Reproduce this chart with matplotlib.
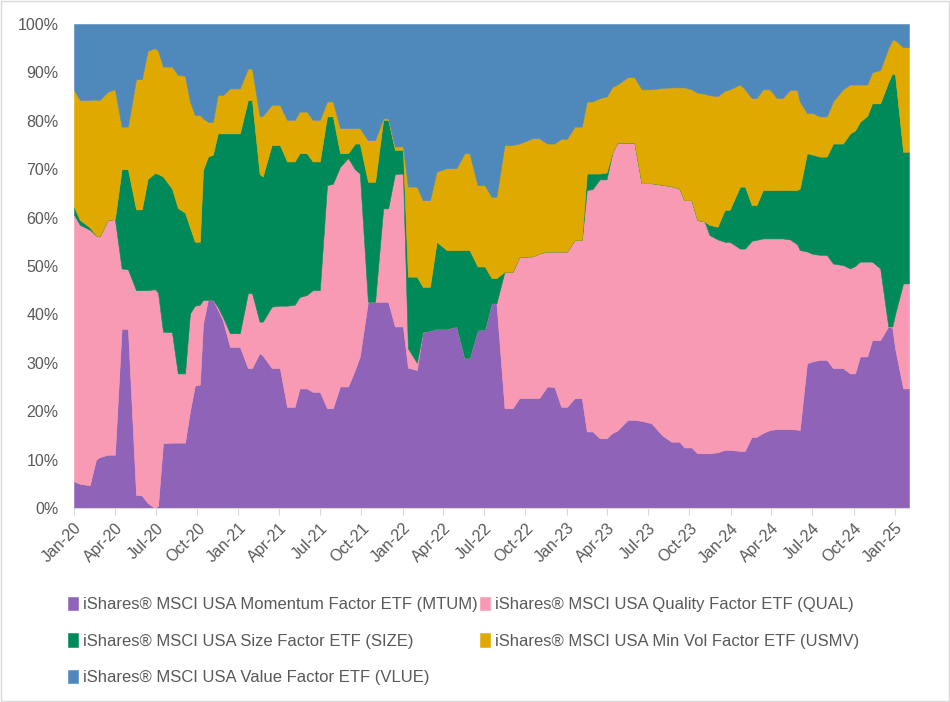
import numpy as np
import pandas as pd
import matplotlib
matplotlib.use("Agg")
import matplotlib.pyplot as plt
import matplotlib.dates as mdates
from matplotlib.patches import Rectangle
from matplotlib.ticker import PercentFormatter

plt.rcParams['font.family'] = ['Liberation Sans', 'DejaVu Sans']

dates = [
    "2020-01-01", "2020-01-14", "2020-02-05", "2020-02-19", "2020-02-27", "2020-03-16",
    "2020-04-01", "2020-04-16", "2020-04-30", "2020-05-18", "2020-05-31", "2020-06-13",
    "2020-06-29", "2020-07-06", "2020-07-17", "2020-08-06", "2020-08-19", "2020-09-04",
    "2020-09-15", "2020-09-26", "2020-10-07", "2020-10-14", "2020-10-25", "2020-11-05",
    "2020-11-16", "2020-11-27", "2020-12-13", "2021-01-04", "2021-01-22", "2021-01-31",
    "2021-02-17", "2021-02-24", "2021-03-16", "2021-04-03", "2021-04-19", "2021-05-06",
    "2021-05-17", "2021-06-02", "2021-06-15", "2021-07-01", "2021-07-17", "2021-07-30",
    "2021-08-15", "2021-09-02", "2021-09-17", "2021-09-28", "2021-10-16", "2021-11-01",
    "2021-11-19", "2021-11-30", "2021-12-15", "2022-01-02", "2022-01-13", "2022-02-02",
    "2022-02-15", "2022-03-03", "2022-03-18", "2022-04-09", "2022-05-01", "2022-05-19",
    "2022-05-30", "2022-06-17", "2022-07-03", "2022-07-18", "2022-07-29", "2022-08-16",
    "2022-09-03", "2022-09-18", "2022-10-17", "2022-11-01", "2022-11-19", "2022-12-05",
    "2022-12-20", "2023-01-02", "2023-01-19", "2023-02-04", "2023-02-15", "2023-02-28",
    "2023-03-16", "2023-03-31", "2023-04-13", "2023-04-24", "2023-05-17", "2023-06-01",
    "2023-06-17", "2023-07-09", "2023-08-02", "2023-08-22", "2023-09-09", "2023-09-20",
    "2023-10-06", "2023-10-19", "2023-11-04", "2023-11-15", "2023-12-03", "2023-12-19",
    "2023-12-30", "2024-01-22", "2024-02-02", "2024-02-17", "2024-02-28", "2024-03-13",
    "2024-03-28", "2024-04-13", "2024-04-26", "2024-05-12", "2024-05-28", "2024-06-03",
    "2024-06-19", "2024-07-02", "2024-07-18", "2024-08-02", "2024-08-16", "2024-09-07",
    "2024-09-23", "2024-10-04", "2024-10-15", "2024-10-31", "2024-11-11", "2024-11-29",
    "2024-12-17", "2024-12-26", "2025-01-01", "2025-01-19", "2025-02-01",
]

# weights in % (each row of the five lists sums to 100)
mtum = [
    5.5, 5.0, 4.7, 10.0, 10.5, 11.0, 11.0, 37.0, 37.0, 2.7, 2.6, 1.0,
    0.0, 0.5, 13.4, 13.5, 13.5, 13.5, 20.0, 25.3, 25.5, 38.0, 43.0, 43.0,
    41.0, 38.8, 33.3, 33.3, 28.9, 28.9, 32.0, 31.5, 28.9, 28.9, 20.9, 20.9,
    24.7, 24.7, 24.0, 24.0, 20.6, 20.6, 25.1, 25.1, 28.5, 31.3, 42.6, 42.6,
    42.6, 42.6, 37.5, 37.5, 29.0, 28.5, 36.4, 36.6, 37.0, 37.0, 37.5, 31.0,
    31.0, 36.8, 36.8, 42.3, 42.3, 20.6, 20.6, 22.7, 22.7, 22.7, 25.1, 25.0,
    20.9, 20.9, 22.7, 22.7, 15.8, 15.8, 14.4, 14.4, 15.5, 16.0, 18.2, 18.2,
    18.0, 17.5, 15.0, 13.7, 13.7, 12.5, 12.5, 11.3, 11.3, 11.3, 11.5, 12.0,
    12.0, 11.8, 11.8, 14.7, 14.7, 15.5, 16.1, 16.3, 16.3, 16.3, 16.2, 16.1,
    29.9, 30.3, 30.6, 30.6, 28.9, 28.9, 27.8, 27.8, 31.3, 31.3, 34.7, 34.7,
    37.5, 37.2, 33.0, 24.7, 24.7,
]
qual = [
    55.1, 53.5, 52.8, 46.3, 45.6, 48.5, 48.7, 12.5, 12.3, 42.3, 42.4, 44.0,
    45.2, 44.0, 23.0, 22.8, 14.3, 14.3, 20.2, 16.5, 16.5, 5.0, 0.0, 0.0,
    0.5, 0.7, 2.8, 2.8, 15.5, 15.5, 6.5, 7.0, 12.7, 12.9, 20.9, 21.1,
    18.9, 19.3, 21.0, 21.0, 46.1, 46.4, 45.4, 47.2, 41.5, 37.8, 0.0, 0.0,
    19.3, 19.3, 31.5, 31.6, 4.0, 1.5, 0.0, 0.0, 0.0, 0.0, 0.0, 0.0,
    0.0, 0.0, 0.0, 0.0, 0.0, 28.2, 28.2, 29.2, 29.3, 29.9, 27.9, 28.0,
    32.1, 32.1, 32.7, 32.7, 49.9, 50.1, 53.5, 53.5, 58.0, 59.5, 57.3, 57.3,
    49.1, 49.6, 51.8, 52.8, 52.3, 51.1, 51.1, 48.2, 47.9, 45.1, 44.0, 43.0,
    43.0, 41.8, 41.8, 40.5, 40.7, 40.2, 39.6, 39.4, 39.4, 39.2, 38.3, 37.2,
    23.1, 22.2, 21.7, 21.7, 21.6, 21.3, 21.7, 22.2, 19.6, 19.6, 16.2, 14.8,
    0.0, 0.3, 7.0, 21.7, 21.7,
]
size = [
    1.6, 1.0, 0.5, 0.0, 0.0, 0.0, 0.0, 20.5, 20.7, 16.7, 16.7, 23.0,
    24.0, 24.5, 32.1, 29.7, 34.2, 33.2, 17.8, 13.2, 13.0, 26.8, 29.6, 30.0,
    35.9, 37.9, 41.3, 41.3, 39.9, 39.9, 30.5, 30.0, 33.4, 33.2, 29.8, 29.6,
    29.7, 29.3, 26.6, 26.6, 14.2, 13.9, 2.8, 1.0, 5.3, 6.2, 24.8, 24.8,
    18.3, 18.3, 5.0, 4.9, 14.8, 17.8, 9.3, 9.1, 18.0, 16.3, 15.8, 22.3,
    22.3, 13.1, 13.1, 5.2, 5.2, 0.0, 0.0, 0.0, 0.0, 0.0, 0.0, 0.0,
    0.0, 0.0, 0.0, 0.0, 3.4, 3.2, 1.2, 1.4, 0.0, 0.0, 0.0, 0.0,
    0.0, 0.0, 0.0, 0.0, 0.0, 0.0, 0.0, 0.0, 0.0, 2.1, 2.6, 6.6,
    6.6, 12.8, 12.8, 7.4, 7.2, 10.0, 10.0, 10.0, 10.0, 10.2, 11.2, 12.7,
    20.3, 20.5, 20.3, 20.3, 24.8, 25.1, 27.9, 28.0, 28.9, 30.1, 32.7, 34.1,
    50.5, 52.3, 49.5, 27.2, 27.2,
]
usmv = [
    24.2, 24.8, 26.3, 28.1, 28.2, 26.5, 26.8, 8.8, 8.8, 26.9, 26.9, 26.5,
    25.8, 25.5, 22.7, 25.2, 27.5, 28.3, 26.0, 26.2, 26.2, 10.7, 7.2, 6.8,
    8.0, 7.9, 9.3, 9.3, 6.5, 6.5, 12.0, 12.5, 8.3, 8.3, 8.6, 8.6,
    8.6, 8.6, 8.6, 8.6, 3.1, 3.1, 5.2, 5.2, 3.2, 3.2, 8.6, 8.6,
    0.3, 0.3, 0.7, 0.7, 18.6, 18.6, 17.9, 17.9, 14.5, 16.9, 16.9, 20.0,
    20.0, 16.8, 16.8, 16.8, 16.8, 26.2, 26.2, 23.4, 24.4, 23.8, 22.3, 22.3,
    23.3, 23.3, 23.4, 23.4, 14.9, 14.9, 15.6, 15.7, 13.5, 12.0, 13.5, 13.5,
    19.4, 19.4, 20.0, 20.4, 20.9, 23.3, 22.9, 26.3, 26.4, 26.8, 27.0, 24.6,
    24.9, 21.1, 20.1, 22.1, 22.1, 20.8, 20.8, 19.0, 19.0, 20.7, 20.7, 18.0,
    8.3, 8.6, 8.3, 8.3, 8.7, 11.2, 10.1, 9.5, 7.7, 6.5, 6.4, 6.9,
    7.0, 6.9, 7.2, 21.6, 21.6,
]
vlue = [
    13.6, 15.7, 15.7, 15.6, 15.7, 14.0, 13.5, 21.2, 21.2, 11.4, 11.4, 5.5,
    5.0, 5.5, 8.8, 8.8, 10.5, 10.7, 16.0, 18.8, 18.8, 19.5, 20.2, 20.2,
    14.6, 14.7, 13.3, 13.3, 9.2, 9.2, 19.0, 19.0, 16.7, 16.7, 19.8, 19.8,
    18.1, 18.1, 19.8, 19.8, 16.0, 16.0, 21.5, 21.5, 21.5, 21.5, 24.0, 24.0,
    19.5, 19.5, 25.3, 25.3, 33.6, 33.6, 36.4, 36.4, 30.5, 29.8, 29.8, 26.7,
    26.7, 33.3, 33.3, 35.7, 35.7, 25.0, 25.0, 24.7, 23.6, 23.6, 24.7, 24.7,
    23.7, 23.7, 21.2, 21.2, 16.0, 16.0, 15.3, 15.0, 13.0, 12.5, 11.0, 11.0,
    13.5, 13.5, 13.2, 13.1, 13.1, 13.1, 13.5, 14.2, 14.4, 14.7, 14.9, 13.8,
    13.5, 12.5, 13.5, 15.3, 15.3, 13.5, 13.5, 15.3, 15.3, 13.6, 13.6, 16.0,
    18.4, 18.4, 19.1, 19.1, 16.0, 13.5, 12.5, 12.5, 12.5, 12.5, 10.0, 9.5,
    5.0, 3.3, 3.3, 4.8, 4.8,
]

labels = [
    "iShares® MSCI USA Momentum Factor ETF (MTUM)",
    "iShares® MSCI USA Quality Factor ETF (QUAL)",
    "iShares® MSCI USA Size Factor ETF (SIZE)",
    "iShares® MSCI USA Min Vol Factor ETF (USMV)",
    "iShares® MSCI USA Value Factor ETF (VLUE)",
]
colors = ["#8E63B8", "#F99AB4", "#008A5A", "#DFA900", "#4F88BB"]

x = pd.to_datetime(dates)

fig = plt.figure(figsize=(9.5, 7.02), dpi=100)
ax = fig.add_axes([0.0779, 0.2764, 0.8789, 0.6894])

polys = ax.stackplot(x, mtum, qual, size, usmv, vlue, colors=colors, labels=labels,
                     linewidth=0.4)
for p, c in zip(polys, colors):
    p.set_edgecolor(c)

ax.set_xlim(x[0], x[-1])
ax.set_ylim(0, 100)
ax.yaxis.set_major_locator(plt.MultipleLocator(10))
ax.yaxis.set_major_formatter(PercentFormatter(decimals=0))

ax.xaxis.set_major_locator(mdates.MonthLocator(bymonth=[1, 4, 7, 10]))
ax.xaxis.set_major_formatter(mdates.DateFormatter("%b-%y"))
plt.setp(ax.get_xticklabels(), rotation=45, ha="right", rotation_mode="anchor")

for side in ["left", "right", "top"]:
    ax.spines[side].set_visible(False)
ax.spines["bottom"].set_color("#D9D9D9")
ax.tick_params(axis="x", direction="out", length=5, color="#D9D9D9",
               labelsize=11.5, labelcolor="#595959", pad=4)
ax.tick_params(axis="y", length=0, labelsize=11.5, labelcolor="#595959", pad=11)

# legend laid out row by row like the original (matplotlib fills columns first)
handles, labs = ax.get_legend_handles_labels()
order = [0, 2, 4, 1, 3]
fig.legend([handles[i] for i in order], [labs[i] for i in order],
           loc="upper left", bbox_to_anchor=(0.065, 0.1596), ncol=2, frameon=False,
           fontsize=12, labelcolor="#595959", handlelength=0.6, handleheight=0.9,
           handletextpad=0.3, columnspacing=0.1, labelspacing=1.25,
           borderaxespad=0)

# chart border
fig.patches.append(Rectangle((0.001, 0.0015), 0.998, 0.997, transform=fig.transFigure,
                             fill=False, edgecolor="#D9D9D9", linewidth=1))

fig.savefig("out.png", dpi=100)
